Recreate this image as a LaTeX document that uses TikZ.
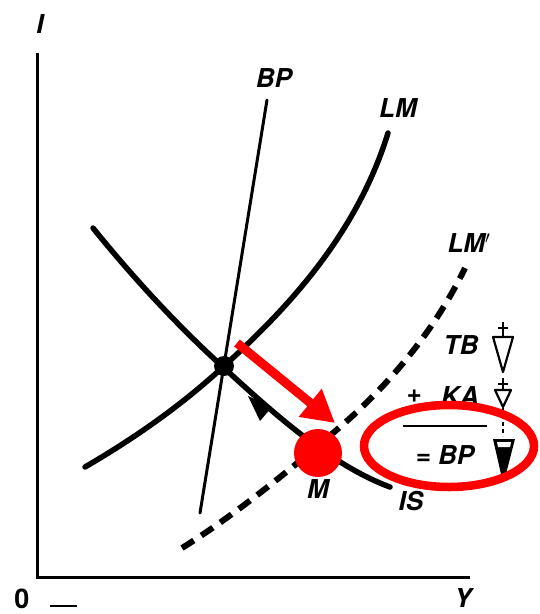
\documentclass[tikz,border=0pt]{standalone}
\usepackage{fontspec}
\newfontfamily\lab{TeX Gyre Heros}
\usetikzlibrary{arrows.meta,shapes.geometric}
\definecolor{hired}{RGB}{255,0,0}
\tikzset{
  x=1pt,y=-1pt,
  lbl/.style={font=\lab\bfseries\itshape\fontsize{26}{26}\selectfont, inner sep=0pt},
  axis/.style={line width=3pt},
  curve/.style={line width=5.5pt, line cap=round},
  thinline/.style={line width=3pt, line cap=round},
  dashcurve/.style={line width=6pt, dash pattern=on 14pt off 9pt},
  redarrow/.style={draw=hired, line width=9pt, -{Triangle[length=32pt,width=34pt]}},
  symb/.style={line width=2.2pt, line join=round},
}
\begin{document}
\begin{tikzpicture}
\useasboundingbox (0,0) rectangle (539,614);
% axes
\coordinate (ytop) at (37,53);
\coordinate (orig) at (37,577);
\coordinate (xend) at (470,577);
\draw[axis] (ytop) -- (orig) -- (xend);
\node[lbl] (ilab) at (40,24) {I};
\node[lbl, font=\lab\bfseries\fontsize{27}{27}\selectfont] (zero) at (22,599) {0};
\coordinate (da) at (50,606); \coordinate (db) at (77,606);
\draw[line width=2pt] (da) -- (db);
\node[lbl] (ylab) at (463,598) {Y};
% BP line
\coordinate (bpt) at (267,100);
\coordinate (bpb) at (200,513);
\draw[thinline] (bpt) -- (bpb);
\node[lbl] (bplab) at (274,78) {BP};
% LM
\coordinate (lm0) at (85,467);
\coordinate (E0) at (223,367);
\coordinate (lm1) at (388,133);
\draw[curve] (lm0) .. controls (140,435) and (185,402) .. (E0) .. controls (280,315) and (355,240) .. (lm1);
\node[lbl] (lmlab) at (398,108) {LM};
% IS
\coordinate (is0) at (93,228);
\coordinate (is1) at (390,487);
\draw[curve] (is0) .. controls (135,280) and (180,328) .. (E0) .. controls (270,410) and (330,465) .. (is1);
\node[lbl] (islab) at (411,501) {IS};
% LM'
\coordinate (lp0) at (182,548);
\coordinate (lpm) at (340,427);
\coordinate (lp1) at (465,268);
\draw[dashcurve] (lp0) .. controls (235,515) and (290,470) .. (lpm) .. controls (390,384) and (435,330) .. (lp1);
\node[lbl] (lmplab) at (469,243) {LM$'$};
% intersection dot
\node[circle, fill=black, minimum size=20pt, inner sep=0pt] (E) at (224,366) {};
% IS arrow head
\fill (248,396) -- (272,407) -- (260,421) -- cycle;
% M label
\node[lbl] (mlab) at (318,489) {M};
% right side labels
\node[lbl] (tblab) at (461,345) {TB};
\node[lbl] (plus) at (414,396) {+};
\node[lbl] (kalab) at (460,396) {KA};
\coordinate (ra) at (403,426); \coordinate (rb) at (487,426);
\draw[line width=2.5pt] (ra) -- (rb);
\node[lbl] (bplab2) at (445,455) {= BP};
% arrow symbols
\draw[symb] (503,322) -- (503,336);
\draw[symb] (498,328) -- (508,328);
\draw[symb] (493,337) -- (513,337) -- (503,372) -- cycle;
\draw[symb] (503,378) -- (503,389);
\draw[symb] (498,384) -- (508,384);
\draw[symb] (495,390) -- (511,390) -- (503,407) -- cycle;
\draw[line width=2pt, dash pattern=on 4pt off 3pt] (503,408) -- (503,436);
\fill (493,439) -- (515,439) -- (506,474) -- (501,474) -- cycle;
\fill[white] (497,442) -- (511,442) -- (510,447) -- (498,447) -- cycle;
% red annotations
\coordinate (rs) at (237,343);
\coordinate (rt) at (335,423);
\draw[redarrow] (rs) -- (rt);
\node[circle, fill=hired, minimum size=48pt, inner sep=0pt] (M) at (318,453) {};
\node[draw=hired, line width=8.5pt, ellipse, minimum width=170pt, minimum height=82pt, inner sep=0pt] (ring) at (449,446) {};
\end{tikzpicture}
\end{document}
